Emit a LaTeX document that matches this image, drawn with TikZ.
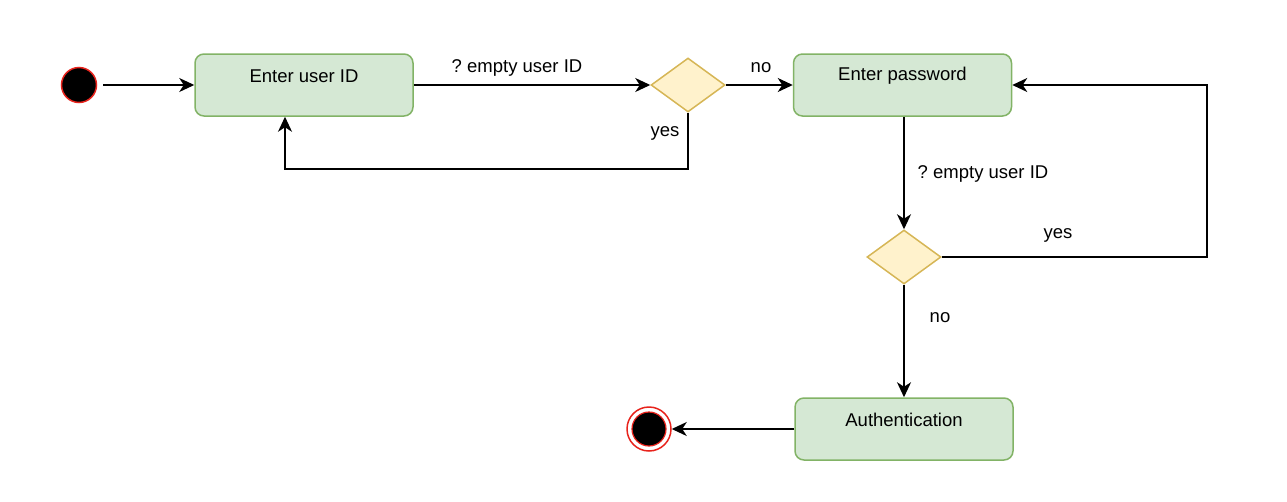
\documentclass[tikz,border=0pt]{standalone}
\usepackage{fontspec}
\setmainfont{Liberation Sans}
\usetikzlibrary{shapes.geometric,arrows.meta}
\definecolor{gfill}{HTML}{D5E8D4}
\definecolor{gline}{HTML}{82B366}
\definecolor{yfill}{HTML}{FFF2CC}
\definecolor{yline}{HTML}{D6B656}
\definecolor{rline}{HTML}{E8231C}
\frenchspacing
\tikzset{
  box/.style={draw=gline,fill=gfill,rounded corners=9pt,line width=1.5pt,minimum width=218pt,minimum height=62pt,inner sep=0pt},
  dia/.style={diamond,draw=yline,fill=yfill,line width=1.5pt,minimum width=74pt,minimum height=54pt,inner sep=0pt,aspect=1.37},
  txt/.style={font=\fontsize{18.5}{22}\selectfont,inner sep=0pt},
  arr/.style={line width=1.6pt,-{Stealth[length=15pt,width=14pt,inset=4.5pt]}},
  ln/.style={line width=1.5pt},
}
\begin{document}
\begin{tikzpicture}[x=1pt,y=-1pt]
\useasboundingbox (0,0) rectangle (1287,501);
% start
\node[circle,draw=rline,fill=black,line width=1.5pt,minimum size=35pt,inner sep=0pt] (s) at (79,85) {};
% boxes
\node[box] (b1) at (304,85) {};
\node[txt] (t1) at (304,76) {Enter user ID};
\node[box] (b2) at (902.5,85) {};
\node[txt] (t2) at (902.5,76) {Enter password};
\node[box] (b3) at (904,429) {};
\node[txt] (t3) at (904,420) {Authentication};
% diamonds
\node[dia] (d1) at (688,85) {};
\node[dia] (d2) at (904,257) {};
% end
\node[circle,draw=rline,fill=white,line width=1.5pt,minimum size=44pt,inner sep=0pt] (e) at (649,429) {};
\node[circle,draw=rline,fill=black,line width=1.2pt,minimum size=34pt,inner sep=0pt] (ei) at (649,429) {};
% edges
\draw[arr,shorten <=6pt] (s) -- (b1);
\draw[arr] (b1) -- (d1);
\draw[arr] (d1) -- (b2);
\coordinate (c1) at (285,169);
\draw[arr] (d1.south) |- (c1) -- (c1 |- b1.south);
\draw[arr] (d2.north |- b2.south) -- (d2.north);
\coordinate (c2) at (1207,257);
\draw[arr] (d2.east) -- (c2) |- (b2.east);
\draw[arr] (d2.south) -- (b3.north);
\draw[arr] (b3.west) -- (e.east);
% labels
\node[txt] (l1) at (517,68) {? empty user ID};
\node[txt] (l2) at (761,68) {no};
\node[txt] (l3) at (665,133) {yes};
\node[txt] (l4) at (983,174) {? empty user ID};
\node[txt] (l5) at (1058,235) {yes};
\node[txt] (l6) at (940,318) {no};
\end{tikzpicture}
\end{document}
